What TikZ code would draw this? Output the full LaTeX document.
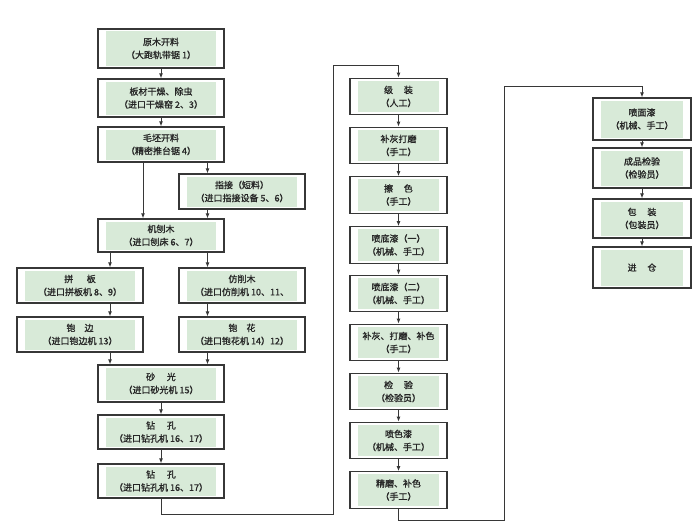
\documentclass[tikz,border=0pt]{standalone}
\usepackage{fontspec}
\newfontfamily\cjk[FakeBold=1.2]{Noto Sans CJK SC}
\usetikzlibrary{arrows.meta}
\definecolor{boxgreen}{RGB}{216,234,216}
\definecolor{edgegray}{RGB}{55,55,55}
\begin{document}
\begin{tikzpicture}[x=1pt,y=-1pt,
  box/.style={draw=edgegray, line width=1.2pt, fill=white, inner sep=0pt, align=center,
    font=\cjk\fontsize{9}{13}\selectfont, text=black!85,
    path picture={\fill[boxgreen] ([xshift=8pt,yshift=-2.5pt]path picture bounding box.north west) rectangle ([xshift=-8pt,yshift=2.5pt]path picture bounding box.south east);}},
  wbox/.style={box, minimum width=126pt},
  mbox/.style={box, minimum width=97pt, minimum height=36.5pt},
  rbox/.style={box, minimum width=98pt},
  conn/.style={draw=edgegray, line width=1pt, -{Latex[length=5pt,width=4pt]}}
]
\fill[white] (0,0) rectangle (700,527);
\useasboundingbox (0,0) rectangle (700,527);

% left part
\node[wbox, minimum height=39pt] (a1) at (161,48.5) {原木开料\\（大跑轨带锯 1）};
\node[wbox, minimum height=38pt] (a2) at (161,98) {板材干燥、除虫\\（进口干燥窑 2、3）};
\node[wbox, minimum height=35pt] (a3) at (161,144.5) {毛坯开料\\（精密推台锯 4）};
\node[wbox, minimum height=35pt] (a4) at (242,191.5) {指接（短料）\\（进口指接设备 5、6）};
\node[wbox, minimum height=33pt] (a5) at (161,235.5) {机刨木\\（进口刨床 6、7）};
\node[wbox, minimum height=35pt] (a6) at (80,285.5) {拼\hspace{1.5em}板\\（进口拼板机 8、9）};
\node[wbox, minimum height=35pt] (a7) at (242,285.5) {仿削木\\（进口仿削机 10、11、};
\node[wbox, minimum height=35pt] (a8) at (80,334.5) {铇\hspace{1em}边\\（进口铇边机 13）};
\node[wbox, minimum height=35pt] (a9) at (242,334.5) {铇\hspace{1em}花\\（进口铇花机 14）12）};
\node[wbox, minimum height=37pt] (a10) at (161,383.5) {砂\hspace{1.3em}光\\（进口砂光机 15）};
\node[wbox, minimum height=34pt] (a11) at (161,432) {钻\hspace{1.3em}孔\\（进口钻孔机 16、17）};
\node[wbox, minimum height=34pt] (a12) at (161,481) {钻\hspace{1.3em}孔\\（进口钻孔机 16、17）};

% middle column
\node[mbox] (m1) at (398.5,96.5) {级\hspace{1.2em}装\\（人工）};
\node[mbox] (m2) at (398.5,145.5) {补灰打磨\\（手工）};
\node[mbox] (m3) at (398.5,195) {擦\hspace{1.2em}色\\（手工）};
\node[mbox] (m4) at (398.5,245) {喷底漆（一）\\（机械、手工）};
\node[mbox] (m5) at (398.5,293.5) {喷底漆（二）\\（机械、手工）};
\node[mbox] (m6) at (398.5,342.5) {补灰、打磨、补色\\（手工）};
\node[mbox] (m7) at (398.5,391.5) {检\hspace{1.2em}验\\（检验员）};
\node[mbox] (m8) at (398.5,440.5) {喷色漆\\（机械、手工）};
\node[mbox] (m9) at (398.5,490) {精磨、补色\\（手工）};

% right column
\node[rbox, minimum height=42pt] (r1) at (642,119) {喷面漆\\（机械、手工）};
\node[rbox, minimum height=40pt] (r2) at (642,168) {成品检验\\（检验员）};
\node[rbox, minimum height=39pt] (r3) at (642,218.5) {包\hspace{1.2em}装\\（包装员）};
\node[rbox, minimum height=41pt] (r4) at (642,267.5) {进\hspace{1.2em}仓};

% helper coordinates
\coordinate (xL) at (143,0);
\coordinate (xR) at (207.5,0);
\coordinate (xP) at (110,0);
\coordinate (c1) at (333,514);
\coordinate (c2) at (333,65);
\coordinate (d1) at (504,520);
\coordinate (d2) at (504,86);

% connectors, left part
\draw[conn] (a1.south) -- (a2.north);
\draw[conn] (a2.south) -- (a3.north);
\draw[conn] (a3.south -| xL) -- (a5.north -| xL);
\draw[conn] (a3.south -| xR) -- (a4.north -| xR);
\draw[conn] (a4.south -| xR) -- (a5.north -| xR);
\draw[conn] (a5.south -| xP) -- (a6.north -| xP);
\draw[conn] (a5.south -| xR) -- (a7.north -| xR);
\draw[conn] (a6.south -| xP) -- (a8.north -| xP);
\draw[conn] (a7.south -| xR) -- (a9.north -| xR);
\draw[conn] (a8.south -| xP) -- (a10.north -| xP);
\draw[conn] (a9.south -| xR) -- (a10.north -| xR);
\draw[conn] (a10.south) -- (a11.north);
\draw[conn] (a11.south) -- (a12.north);
\draw[conn] (a12.south) |- (c1) -- (c2) -| (m1.north);

% middle
\draw[conn] (m1.south) -- (m2.north);
\draw[conn] (m2.south) -- (m3.north);
\draw[conn] (m3.south) -- (m4.north);
\draw[conn] (m4.south) -- (m5.north);
\draw[conn] (m5.south) -- (m6.north);
\draw[conn] (m6.south) -- (m7.north);
\draw[conn] (m7.south) -- (m8.north);
\draw[conn] (m8.south) -- (m9.north);
\draw[conn] (m9.south) |- (d1) -- (d2) -| (r1.north);

% right
\draw[conn] (r1.south) -- (r2.north);
\draw[conn] (r2.south) -- (r3.north);
\draw[conn] (r3.south) -- (r4.north);
\end{tikzpicture}
\end{document}
